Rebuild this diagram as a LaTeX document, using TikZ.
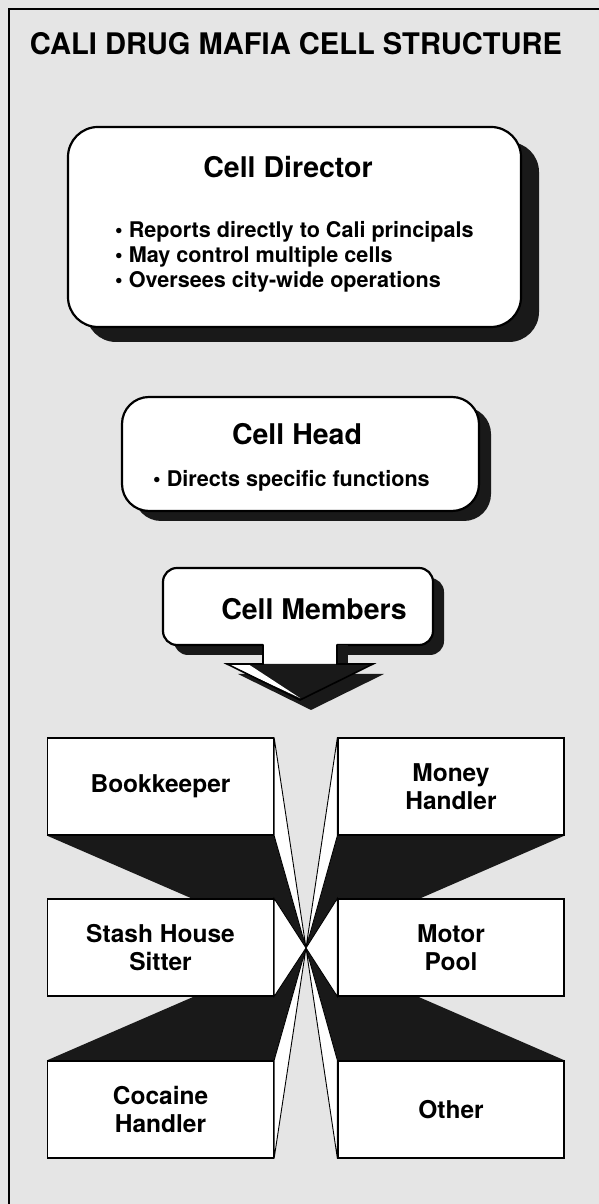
\documentclass[tikz,border=0pt]{standalone}
\usepackage{fontspec}
\setmainfont{TeX Gyre Heros}
\usepackage{graphicx}
\usepackage{tikz}
\usetikzlibrary{shadows,backgrounds}

\definecolor{paper}{gray}{0.90}
\definecolor{speck}{gray}{0.10}

\tikzset{
  hdrtext/.style={font=\fontsize{28.5}{30}\selectfont\bfseries, inner sep=0},
  itemtext/.style={font=\fontsize{21.6}{25}\selectfont\bfseries, inner sep=0, anchor=base west},
  roundbox/.style={draw, line width=2.2, fill=white},
  membox/.style={draw, line width=1.2, fill=white, minimum width=226, minimum height=97,
    inner sep=0, align=center, font=\fontsize{24.5}{28.5}\selectfont\bfseries},
  sideface/.style={fill=white, draw, line width=0.9, line join=miter},
}

\begin{document}
\begin{tikzpicture}[x=1pt,y=1pt]
            \useasboundingbox (0,0) rectangle (599,1204);

            \draw[line width=2.5] (9,0) -- (9,1195) -- (599,1195);

            \node (title) [anchor=base, inner sep=0] at (296,1149)
              {\resizebox{532pt}{22pt}{\bfseries CALI DRUG MAFIA CELL STRUCTURE}};

            \node (dir) [roundbox, rounded corners=30, minimum width=453, minimum height=200,
              drop shadow={shadow xshift=18pt, shadow yshift=-15pt, fill=speck, opacity=1}] at (294.5,977) {};
            \node (dirname) [hdrtext, anchor=base] at (288,1026) {Cell Director};
            \node (dirA) [itemtext] at (115,966) {\textbullet\ Reports directly to Cali principals};
            \node (dirB) [itemtext] at (115,941) {\textbullet\ May control multiple cells};
            \node (dirC) [itemtext] at (115,916) {\textbullet\ Oversees city-wide operations};

            \node (head) [roundbox, rounded corners=27, minimum width=357, minimum height=114,
              drop shadow={shadow xshift=12pt, shadow yshift=-10pt, fill=speck, opacity=1}] at (300.5,750) {};
            \node (headname) [hdrtext, anchor=base] at (297,759) {Cell Head};
            \node (headA) [itemtext] at (153,717) {\textbullet\ Directs specific functions};

            \node (mem) [roundbox, rounded corners=14, minimum width=270, minimum height=77,
              drop shadow={shadow xshift=11pt, shadow yshift=-10pt, fill=speck, opacity=1}] at (298,597.5) {};
            \fill[speck] (274,559) rectangle (348,530);
            \fill[speck] (238,530) -- (384,530) -- (311,494) -- cycle;
            \fill[white] (263,561) rectangle (337,540);
            \fill[speck] (227,540) -- (373,540) -- (300,504) -- cycle;
            \fill[white] (227,540) -- (248,540) -- (300,506) -- cycle;
            \draw[line width=1.6, line join=miter] (263,559.5) -- (263,540) -- (227,540) -- (300,504)
              -- (373,540) -- (337,540) -- (337,559.5);
            \node (memname) [hdrtext, anchor=base] at (314,584) {Cell Members};

            \coordinate (vp) at (306,256);

            \node (bk) [membox] at (160.5,417.5) {Bookkeeper};
            \node (mh) [membox] at (451,417.5) {Money\\Handler};
            \node (sh) [membox] at (160.5,256.5) {Stash House\\Sitter};
            \node (mp) [membox] at (451,256.5) {Motor\\Pool};
            \node (ch) [membox] at (160.5,94.5) {Cocaine\\Handler};
            \node (ot) [membox] at (451,94.5) {Other};

            \begin{scope}[on background layer]
              \fill[paper] (0,0) rectangle (599,1204);
              \fill[speck] (bk.south west) -- (bk.south east) -- (vp) -- cycle;
              \fill[speck] (mh.south west) -- (mh.south east) -- (vp) -- cycle;
              \fill[speck] (ch.north west) -- (ch.north east) -- (vp) -- cycle;
              \fill[speck] (ot.north west) -- (ot.north east) -- (vp) -- cycle;
              \draw[sideface] (bk.north east) -- (bk.south east) -- (vp) -- cycle;
              \draw[sideface] (mh.north west) -- (mh.south west) -- (vp) -- cycle;
              \draw[sideface] (sh.north east) -- (sh.south east) -- (vp) -- cycle;
              \draw[sideface] (mp.north west) -- (mp.south west) -- (vp) -- cycle;
              \draw[sideface] (ch.north east) -- (ch.south east) -- (vp) -- cycle;
              \draw[sideface] (ot.north west) -- (ot.south west) -- (vp) -- cycle;
            \end{scope}
        \end{tikzpicture}
\end{document}
